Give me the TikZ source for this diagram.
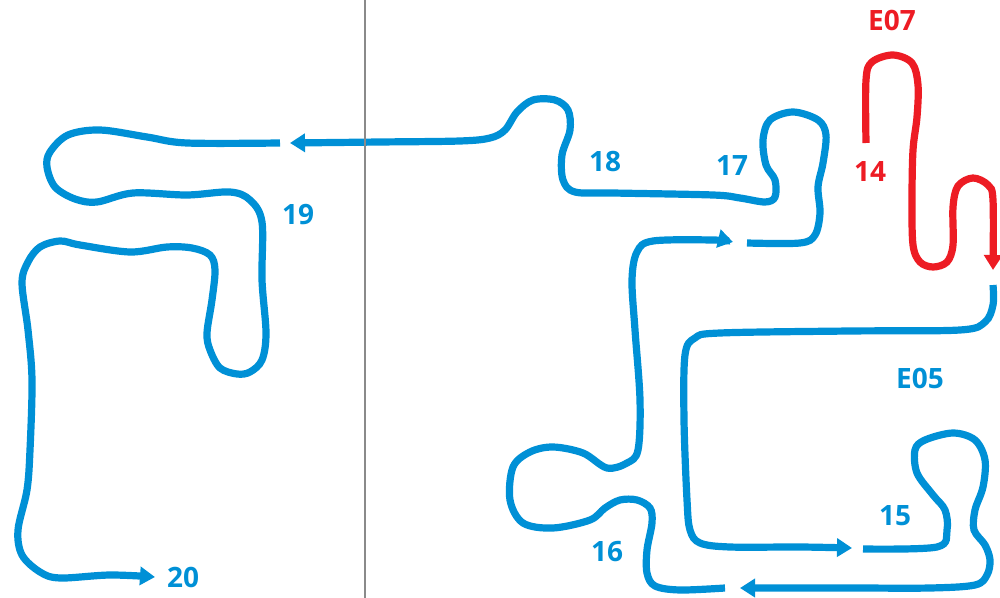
\documentclass[tikz,border=0pt]{standalone}
\usepackage{fontspec}
\setmainfont{Open Sans}
\usetikzlibrary{arrows.meta}
\definecolor{rtblue}{HTML}{0090D6}
\definecolor{rtred}{HTML}{ED1C24}
\definecolor{rtgrey}{HTML}{8A8A8A}
\begin{document}
\begin{tikzpicture}[
  x=0.5pt,y=-0.5pt,
  road/.style={draw=rtblue,line width=3.6pt,rounded corners=0pt},
  eroad/.style={road,draw=rtred},
  tip/.style={-{Triangle[length=7.5pt,width=9pt]}},
  lbl/.style={font=\fontsize{14}{16}\selectfont\bfseries,text=rtblue,inner sep=0pt},
  elbl/.style={lbl,text=rtred}
]
\useasboundingbox (0,0) rectangle (1000,598);

\draw[eroad,tip] plot[smooth,tension=0.55] coordinates {
  (866,143) (866,80) (872,62) (893,55) (912,63) (918,85) (917,117) (913,150)
  (912,200) (913,245) (920,262) (933,267) (947,262) (953,245) (953,207)
  (958,186) (973,178) (988,185) (993,200) (993,270)};

\draw[road,tip] plot[smooth,tension=0.55] coordinates {
  (993,285) (993,305) (985,322) (960,330) (850,331) (720,333) (695,338)
  (685,355) (684,420) (687,500) (690,530) (700,543) (730,547) (800,547) (852,548)};

\draw[road,tip] plot[smooth,tension=0.55] coordinates {
  (863,549) (937,547) (947,530) (945,510) (933,495) (917,473) (915,450)
  (925,440) (953,433) (975,440) (985,460) (983,487) (975,510) (974,530)
  (985,545) (990,560) (987,575) (975,585) (930,588) (850,588) (740,588)};

\draw[road,tip] plot[smooth,tension=0.55] coordinates {
  (725,588) (680,590) (655,586) (647,573) (647,550) (652,523) (650,508)
  (637,500) (620,500) (605,508) (590,520) (553,528) (523,523) (510,500)
  (513,467) (530,452) (553,447) (583,453) (607,468) (627,463) (638,450)
  (640,400) (635,330) (632,280) (637,252) (653,241) (713,240) (733,242)};

\draw[road,tip] plot[smooth,tension=0.55] coordinates {
  (747,243) (800,243) (815,235) (820,213) (818,187) (823,163) (826,135)
  (818,120) (793,112) (770,120) (763,140) (766,165) (775,180) (775,197)
  (765,202) (740,198) (713,195) (613,193) (575,192) (563,180) (562,155)
  (570,130) (568,110) (555,100) (533,100) (517,112) (505,130) (490,138)
  (460,141) (380,142) (290,143)};

\draw[road,tip] plot[smooth,tension=0.55] coordinates {
  (280,143) (187,143) (147,137) (100,130) (68,135) (50,152) (47,167)
  (55,187) (75,199) (97,202) (133,193) (187,195) (230,192) (250,200)
  (262,222) (262,280) (266,333) (262,360) (250,372) (237,374) (220,368)
  (210,350) (207,333) (212,300) (215,270) (210,255) (192,248) (167,247)
  (130,252) (80,245) (60,241) (40,247) (28,262) (22,283) (28,330) (32,380)
  (30,450) (27,490) (18,530) (22,555) (40,572) (60,578) (110,575) (155,577)};

\draw[rtgrey,line width=0.9pt] (365,0) -- (365,598);

\node[elbl] (e07) at (892,20) {E07};
\node[elbl] (n14) at (870,172) {14};
\node[lbl] (e05) at (920,378) {E05};
\node[lbl] (n15) at (895,516) {15};
\node[lbl] (n16) at (607,552) {16};
\node[lbl] (n17) at (732,166) {17};
\node[lbl] (n18) at (605,162) {18};
\node[lbl] (n19) at (298,215) {19};
\node[lbl] (n20) at (183,577) {20};
\end{tikzpicture}
\end{document}
